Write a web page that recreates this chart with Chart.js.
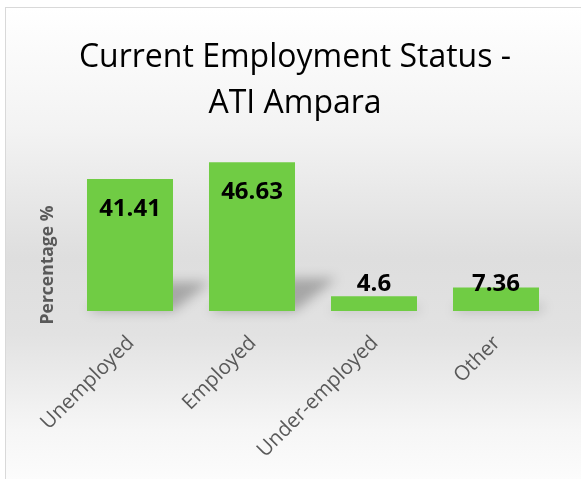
<!DOCTYPE html>
<html>
<head>
<meta charset="utf-8">
<script src="https://cdn.jsdelivr.net/npm/chart.js@4.4.0/dist/chart.umd.min.js"></script>
<style>
html, body { margin: 0; padding: 0; background: #fff; overflow: hidden; }
#frame {
    position: absolute; left: 5px; top: 7px; width: 600px; height: 480px;
    border: 1px solid #d9d9d9;
    background: linear-gradient(to bottom, #ffffff 0%, #f3f3f3 25%, #dedede 52%, #e2e2e2 68%, #f6f6f6 88%, #fdfdfd 100%);
}
#myChart { position: absolute; left: 0; top: 0; }
</style>
</head>
<body>
<div id="frame"></div>
<canvas id="myChart" width="581" height="479"></canvas>
<script>
var categories = ["Unemployed", "Employed", "Under-employed", "Other"];
var percentages = [41.41, 46.63, 4.6, 7.36];
var titleLines = ["Current Employment Status -", "ATI Ampara"];
var yTitle = "Percentage %";

var barColor = "rgb(112, 204, 68)";
var fontFamily = "'Open Sans', 'Liberation Sans', sans-serif";

// perspective shadow behind each bar, leaning up-right like the Excel one
var barShadow = {
    id: "barShadow",
    beforeDatasetsDraw: function(chart) {
        var ctx = chart.ctx;
        var meta = chart.getDatasetMeta(0);
        ctx.save();
        ctx.filter = "blur(6px)";
        ctx.fillStyle = "rgba(0, 0, 0, 0.26)";
        meta.data.forEach(function(bar) {
            var h = bar.base - bar.y;
            var sh = h * 0.22;
            var dx = h * 0.28;
            var l = bar.x - bar.width / 2;
            var r = bar.x + bar.width / 2;
            ctx.beginPath();
            ctx.moveTo(l, bar.base);
            ctx.lineTo(r, bar.base);
            ctx.lineTo(r + dx, bar.base - sh);
            ctx.lineTo(l + dx, bar.base - sh);
            ctx.closePath();
            ctx.fill();
        });
        ctx.restore();
    }
};

// value labels: inside end, pushed up when the bar is too short
var valueLabels = {
    id: "valueLabels",
    afterDatasetsDraw: function(chart) {
        var ctx = chart.ctx;
        var meta = chart.getDatasetMeta(0);
        ctx.save();
        ctx.font = "bold 24px " + fontFamily;
        ctx.fillStyle = "#000";
        ctx.textAlign = "center";
        ctx.textBaseline = "middle";
        meta.data.forEach(function(bar, i) {
            var cy = Math.min(bar.y + 30, bar.base - 27);
            ctx.fillText(String(percentages[i]), bar.x, cy);
        });
        ctx.restore();
    }
};

// y axis title sits lower than the (hidden) axis centre in the original
var yAxisTitle = {
    id: "yAxisTitle",
    afterDraw: function(chart) {
        var ctx = chart.ctx;
        ctx.save();
        ctx.translate(48, 265);
        ctx.rotate(-Math.PI / 2);
        ctx.font = "bold 17.5px " + fontFamily;
        ctx.fillStyle = "#595959";
        ctx.textAlign = "center";
        ctx.textBaseline = "middle";
        ctx.fillText(yTitle, 0, 0);
        ctx.restore();
    }
};

var config = {
    type: "bar",
    data: {
        labels: categories,
        datasets: [{
            data: percentages,
            backgroundColor: barColor,
            borderWidth: 0,
            categoryPercentage: 1,
            barPercentage: 0.705
        }]
    },
    options: {
        responsive: false,
        animation: false,
        devicePixelRatio: 1,
        layout: { padding: { left: 9, right: 0, top: 0, bottom: 0 } },
        plugins: {
            legend: { display: false },
            tooltip: { enabled: false },
            title: {
                display: true,
                text: titleLines,
                color: "#000",
                font: { family: fontFamily, size: 32, weight: "normal", lineHeight: 1.4375 },
                padding: { top: 35, bottom: 24.5 }
            }
        },
        scales: {
            x: {
                grid: { display: false },
                border: { display: false },
                ticks: {
                    color: "#595959",
                    font: { family: fontFamily, size: 20.5 },
                    minRotation: 45,
                    maxRotation: 45,
                    padding: 12,
                    labelOffset: 1
                },
                afterFit: function(scale) { scale.height = 168; }
            },
            y: {
                min: 0,
                max: 50,
                grid: { display: false },
                border: { display: false },
                ticks: { display: false },
                afterFit: function(scale) { scale.width = 60; }
            },
            yRight: {
                type: "linear",
                position: "right",
                grid: { display: false },
                border: { display: false },
                ticks: { display: false },
                afterFit: function(scale) { scale.width = 24; }
            }
        }
    },
    plugins: [barShadow, valueLabels, yAxisTitle]
};

new Chart(document.getElementById("myChart").getContext("2d"), config);
</script>
</body>
</html>
